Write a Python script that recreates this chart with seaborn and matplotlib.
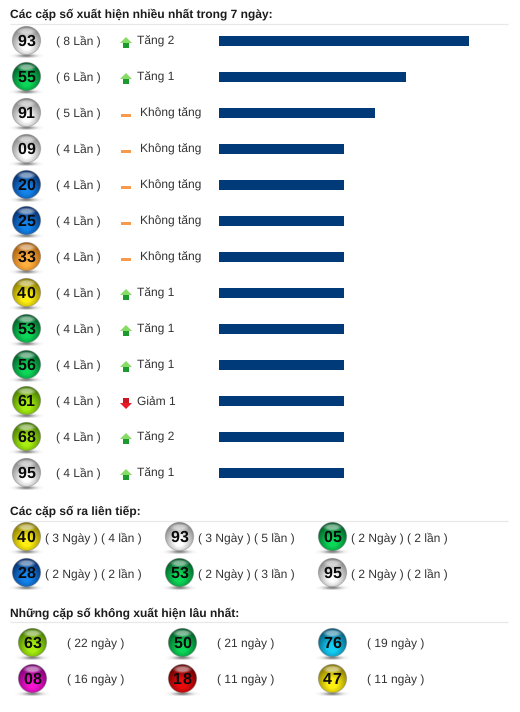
import numpy as np
import matplotlib
matplotlib.use("Agg")
import matplotlib.pyplot as plt
from matplotlib.patches import Polygon, Rectangle
import seaborn as sns

top_numbers = ["93", "55", "91", "09", "20", "25", "33", "40", "53", "56", "61", "68", "95"]
top_counts = [8, 6, 5, 4, 4, 4, 4, 4, 4, 4, 4, 4, 4]
top_colors = ["silver", "green", "silver", "silver", "blue", "blue", "orange", "yellow",
              "green", "green", "lime", "lime", "silver"]
top_trend = ["up", "up", "flat", "flat", "flat", "flat", "flat", "up", "up", "up", "down", "up", "up"]
top_change = ["Tăng 2", "Tăng 1", "Không tăng", "Không tăng", "Không tăng", "Không tăng", "Không tăng",
              "Tăng 1", "Tăng 1", "Tăng 1", "Giảm 1", "Tăng 2", "Tăng 1"]

streak_numbers = ["40", "93", "05", "28", "53", "95"]
streak_colors = ["yellow", "silver", "green", "blue", "green", "silver"]
streak_labels = ["( 3 Ngày ) ( 4 lần )", "( 3 Ngày ) ( 5 lần )", "( 2 Ngày ) ( 2 lần )",
                 "( 2 Ngày ) ( 2 lần )", "( 2 Ngày ) ( 3 lần )", "( 2 Ngày ) ( 2 lần )"]

absent_numbers = ["63", "50", "76", "08", "18", "47"]
absent_colors = ["lime", "green", "cyan", "magenta", "red", "yellow"]
absent_labels = ["( 22 ngày )", "( 21 ngày )", "( 19 ngày )", "( 16 ngày )", "( 11 ngày )", "( 11 ngày )"]

titles = ["Các cặp số xuất hiện nhiều nhất trong 7 ngày:", "Các cặp số ra liên tiếp:",
          "Những cặp số không xuất hiện lâu nhất:"]

PALETTE = {
    "silver": ("#7c7c7c", "#ffffff"), "green": ("#024f24", "#0cd858"), "blue": ("#042660", "#1484ec"),
    "orange": ("#a05606", "#ffb040"), "yellow": ("#7f7000", "#fff010"), "lime": ("#3c7000", "#a8ee10"),
    "cyan": ("#034f70", "#14cef4"), "magenta": ("#6c0068", "#f814d0"), "red": ("#5a0000", "#ea0c0c"),
}

W, H = 520, 712
sns.set_theme(style="white")
plt.rcParams["font.family"] = ["Liberation Sans", "DejaVu Sans"]
plt.rcParams["text.hinting"] = "none"
plt.rcParams["text.hinting_factor"] = 1
TXT = "#333333"
BODY = 8.45

fig = plt.figure(figsize=(W / 100, H / 100), dpi=100, facecolor="white")

# Bars: value axis runs 31.25 px per count from x=219; one row every 36 px from y=41
bar_ax = fig.add_axes([0, 0, 1, 1])
rows = np.arange(len(top_counts))
sns.barplot(x=top_counts, y=rows, orient="h", native_scale=True, color="#003a78", saturation=1,
            width=10 / 36, ax=bar_ax)
bar_ax.set_xlim(-219 / 31.25, (W - 219) / 31.25)
bar_ax.set_ylim((H - 41) / 36, -41 / 36)
bar_ax.axis("off")
for patch in bar_ax.patches:
    patch.set_linewidth(0)

# Everything else lives in pixel space
ov = fig.add_axes([0, 0, 1, 1], facecolor="none")
ov.axis("off")


def ball_image(color, R=14.5, scale=5):
    dark, light = [np.array(matplotlib.colors.to_rgb(c)) for c in PALETTE[color]]
    n = int((2 * R + 6) * scale)
    yy, xx = np.mgrid[0:n, 0:n]
    x = (xx + 0.5) / scale - (R + 3)
    y = (yy + 0.5) / scale - (R + 3)
    d = np.hypot(x, y) / R
    glow = np.clip(1.3 * (1 - np.hypot(x, y - 0.35 * R) / (1.3 * R)), 0, 1)[..., None]
    rgb = dark[None, None] * (1 - glow) + light[None, None] * glow
    hl = np.clip(1 - np.hypot(x / 0.7, (y + 0.64 * R) / 0.28) / R, 0, 1)
    hl = np.clip(hl * 2.0, 0, 1)[..., None] * 0.5
    rgb = rgb * (1 - hl) + hl
    rim = np.clip((d - 0.93) / 0.07, 0, 1)[..., None] * 0.3
    rgb = rgb * (1 - rim) + np.array([0.2, 0.2, 0.2]) * rim
    alpha = np.clip((1 - d) * R * scale / 3, 0, 1)
    sh = np.exp(-(((x / (0.6 * R)) ** 2) + ((y - R - 0.8) / 1.5) ** 2))
    a = alpha + (1 - alpha) * sh * 0.7
    out = np.zeros((n, n, 4))
    out[..., :3] = rgb * alpha[..., None] + 0.25 * (1 - alpha[..., None])
    out[..., 3] = a
    return out, R + 3


def ball(cx, cy, number, color):
    img, h = ball_image(color)
    ov.imshow(img, extent=(cx - h, cx + h, cy + h, cy - h), interpolation="bilinear", aspect="auto", zorder=3)
    for digit, dx in zip(number, (-4.4, 4.8)):
        ov.text(cx + dx, cy + 5.3, digit, fontsize=11.3, fontweight="bold", color="#0a0a0a",
                ha="center", va="baseline", zorder=4)


def heading(y_base, y_rule, s):
    ov.text(10, y_base, s, fontsize=8.45, fontweight="bold", color="#1c1c1c", va="baseline", ha="left")
    ov.plot([10, 508], [y_rule, y_rule], color="#e8e8e8", lw=0.9, solid_capstyle="butt")


def label(x, y, s):
    ov.text(x, y, s, fontsize=BODY, color=TXT, va="baseline", ha="left")


def arrow(cx, cy, kind):
    if kind == "flat":
        ov.add_patch(Rectangle((cx - 5, cy - 1.5), 10, 3, color="#f79a4b", lw=0))
        return
    if kind == "up":
        ov.add_patch(Polygon([(cx, cy - 6), (cx + 6, cy), (cx - 6, cy)], color="#86dc64", lw=0))
        ov.add_patch(Rectangle((cx - 3, cy), 6, 5, color="#1c9a2e", lw=0))
    else:
        ov.add_patch(Rectangle((cx - 3, cy - 5), 6, 5, color="#c81824", lw=0))
        ov.add_patch(Polygon([(cx, cy + 6), (cx + 6, cy), (cx - 6, cy)], color="#e81c28", lw=0))


heading(17, 23.5, titles[0])
for i, (num, cnt, col, tr, ch) in enumerate(zip(top_numbers, top_counts, top_colors, top_trend, top_change)):
    y = 41 + 36 * i
    ball(26, y - 0.5, num, col)
    label(56, y + 4, f"( {cnt} Lần )")
    arrow(126, y + 2, tr)
    label(140 if tr == "flat" else 137, y + 4, ch)

heading(515, 520.5, titles[1])
for i, (num, col, lab) in enumerate(zip(streak_numbers, streak_colors, streak_labels)):
    x = 26 + 153 * (i % 3)
    y = 537 + 36 * (i // 3)
    ball(x, y, num, col)
    label(x + 19, y + 5, lab)

heading(616, 621.5, titles[2])
for i, (num, col, lab) in enumerate(zip(absent_numbers, absent_colors, absent_labels)):
    x = 32 + 150 * (i % 3)
    y = 643 + 36 * (i // 3)
    ball(x, y, num, col)
    label(x + 35, y + 5, lab)

ov.set_xlim(0, W)
ov.set_ylim(H, 0)
fig.savefig("out.png", dpi=100, facecolor="white")
